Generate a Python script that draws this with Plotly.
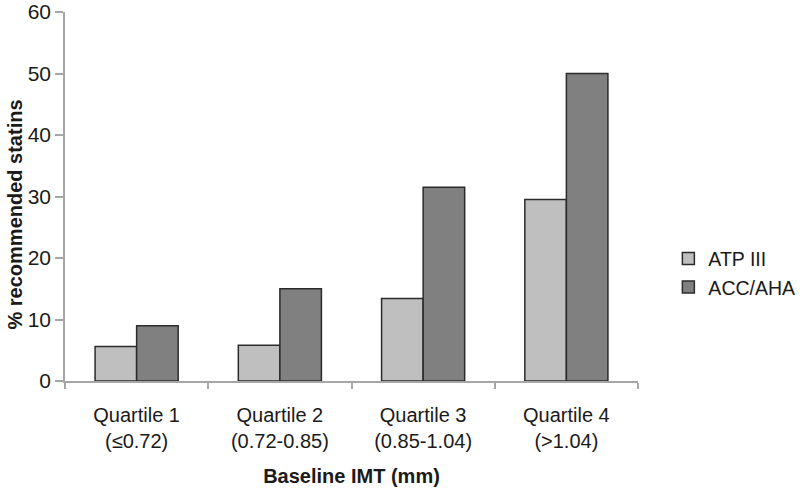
import plotly.graph_objects as go

categories = ["Quartile 1<br>(≤0.72)", "Quartile 2<br>(0.72-0.85)", "Quartile 3<br>(0.85-1.04)", "Quartile 4<br>(>1.04)"]
atp_iii = [5.6, 5.8, 13.4, 29.5]
acc_aha = [9.0, 15.0, 31.5, 50.0]
y_ticks = [0, 10, 20, 30, 40, 50, 60]

FONT = "Arial, Liberation Sans, sans-serif"
TXT = "#1a1a1a"
AX = "#a6a6a6"

fig = go.Figure()
fig.add_trace(go.Bar(name="ATP III", x=categories, y=atp_iii,
                     marker=dict(color="#bfbfbf", line=dict(color="#2b2b2b", width=1.5))))
fig.add_trace(go.Bar(name="ACC/AHA", x=categories, y=acc_aha,
                     marker=dict(color="#808080", line=dict(color="#2b2b2b", width=1.5))))

fig.update_layout(
    width=800, height=491,
    margin=dict(l=65, r=162, t=12, b=110, autoexpand=False),
    paper_bgcolor="white", plot_bgcolor="white",
    barmode="group", bargap=0.42, bargroupgap=0,
    font=dict(family=FONT, size=20, color=TXT),
    showlegend=True,
    legend=dict(x=1.053, y=0.293, xanchor="left", yanchor="middle",
                font=dict(family=FONT, size=19.5, color=TXT),
                itemwidth=30, tracegroupgap=0, bgcolor="rgba(0,0,0,0)"),
    annotations=[dict(text="<b>% recommended statins</b>", textangle=-90,
                      xref="paper", yref="paper", x=-0.088, y=0.45,
                      xanchor="center", yanchor="middle", showarrow=False,
                      font=dict(family=FONT, size=20, color=TXT))],
)

fig.update_xaxes(
    automargin=False,
    showline=True, linecolor=AX, linewidth=1.5,
    ticks="outside", tickson="boundaries", ticklen=6, tickcolor=AX, tickwidth=1.5,
    tickfont=dict(family=FONT, size=20, color=TXT),
    ticklabelstandoff=15,
    title=dict(text="<b>Baseline IMT (mm)</b>", standoff=18,
               font=dict(family=FONT, size=20, color=TXT)),
    showgrid=False, zeroline=False,
)
fig.update_yaxes(
    automargin=False,
    range=[0, 60], tickvals=y_ticks, ticklabeloverflow="allow",
    showline=True, linecolor=AX, linewidth=1.5,
    ticks="outside", ticklen=8, tickcolor=AX, tickwidth=1.5,
    tickfont=dict(family=FONT, size=21, color=TXT),
    showgrid=False, zeroline=False,
)

fig.write_html("out.html", config={"displayModeBar": False},
               post_script="document.body.style.margin='0';document.body.style.overflow='hidden';")
